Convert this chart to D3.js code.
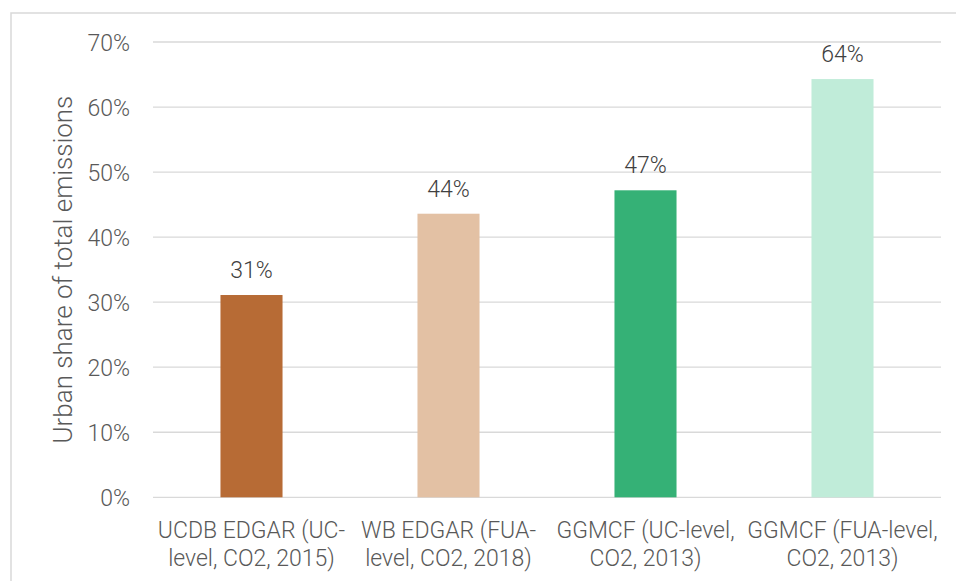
<!DOCTYPE html>
<html><head><meta charset="utf-8">
<script src="https://cdn.jsdelivr.net/npm/d3@7"></script>
<style>
html,body{margin:0;padding:0;background:#fff;}
svg{display:block;}
</style></head>
<body>
<svg id="chart" width="956" height="581"></svg>
<script>
const categories = [
  ["UCDB EDGAR (UC-", "level, CO2, 2015)"],
  ["WB EDGAR (FUA-", "level, CO2, 2018)"],
  ["GGMCF (UC-level,", "CO2, 2013)"],
  ["GGMCF (FUA-level,", "CO2, 2013)"]
];
const values = [0.311, 0.436, 0.472, 0.643];
const valueLabels = ["31%", "44%", "47%", "64%"];
const colors = ["#B76B35", "#E3C1A4", "#35B176", "#C0ECD9"];
const yTicks = [0, 0.1, 0.2, 0.3, 0.4, 0.5, 0.6, 0.7];
const yTitle = "Urban share of total emissions";

(function () {
const svg = d3.select("#chart");
const font = "Roboto, 'DejaVu Sans', sans-serif";
const mLeft = 153, mRight = 941, mTop = 42, mBottom = 497.3;

// frame
svg.append("rect").attr("x", 11).attr("y", 13).attr("width", 1000).attr("height", 700)
  .attr("fill", "none").attr("stroke", "#D9D9D9").attr("stroke-width", 1.5);

const x = d3.scaleBand().domain(d3.range(categories.length)).range([mLeft, mRight])
  .paddingInner(0.685).paddingOuter(0.3425);
const y = d3.scaleLinear().domain([0, 0.7]).range([mBottom, mTop]);

// gridlines
svg.append("g").selectAll("line").data(yTicks).join("line")
  .attr("x1", mLeft).attr("x2", mRight)
  .attr("y1", d => y(d)).attr("y2", d => y(d))
  .attr("stroke", "#D9D9D9").attr("stroke-width", 1.3);

// y axis labels
const yAxis = d3.axisLeft(y).tickValues(yTicks).tickFormat(d3.format(".0%")).tickSize(0).tickPadding(0);
const ga = svg.append("g").attr("transform", `translate(${mLeft - 23},0)`).call(yAxis);
ga.select(".domain").remove();
ga.selectAll("text").attr("font-family", font).attr("font-size", 23).attr("font-weight", 300)
  .attr("fill", "#595959").attr("dy", "0.36em");

// bars
svg.append("g").selectAll("rect").data(values).join("rect")
  .attr("x", (d, i) => x(i)).attr("width", x.bandwidth())
  .attr("y", d => y(d)).attr("height", d => y(0) - y(d))
  .attr("fill", (d, i) => colors[i]);

// value labels
svg.append("g").selectAll("text").data(values).join("text")
  .attr("x", (d, i) => x(i) + x.bandwidth() / 2)
  .attr("y", d => y(d) - 17)
  .attr("text-anchor", "middle")
  .attr("font-family", font).attr("font-size", 23).attr("font-weight", 300).attr("fill", "#404040")
  .text((d, i) => valueLabels[i]);

// category labels
const cg = svg.append("g");
categories.forEach((lines, i) => {
  const t = cg.append("text")
    .attr("x", x(i) + x.bandwidth() / 2)
    .attr("y", 538)
    .attr("text-anchor", "middle")
    .attr("font-family", font).attr("font-size", 23).attr("font-weight", 300).attr("fill", "#595959");
  lines.forEach((l, j) => {
    t.append("tspan").attr("x", x(i) + x.bandwidth() / 2).attr("dy", j === 0 ? 0 : 28).text(l);
  });
});

// y title
svg.append("text")
  .attr("transform", `translate(72,${(mTop + mBottom) / 2}) rotate(-90)`)
  .attr("text-anchor", "middle")
  .attr("font-family", font).attr("font-size", 26).attr("font-weight", 300).attr("fill", "#595959")
  .text(yTitle);
})();
</script>
</body></html>
